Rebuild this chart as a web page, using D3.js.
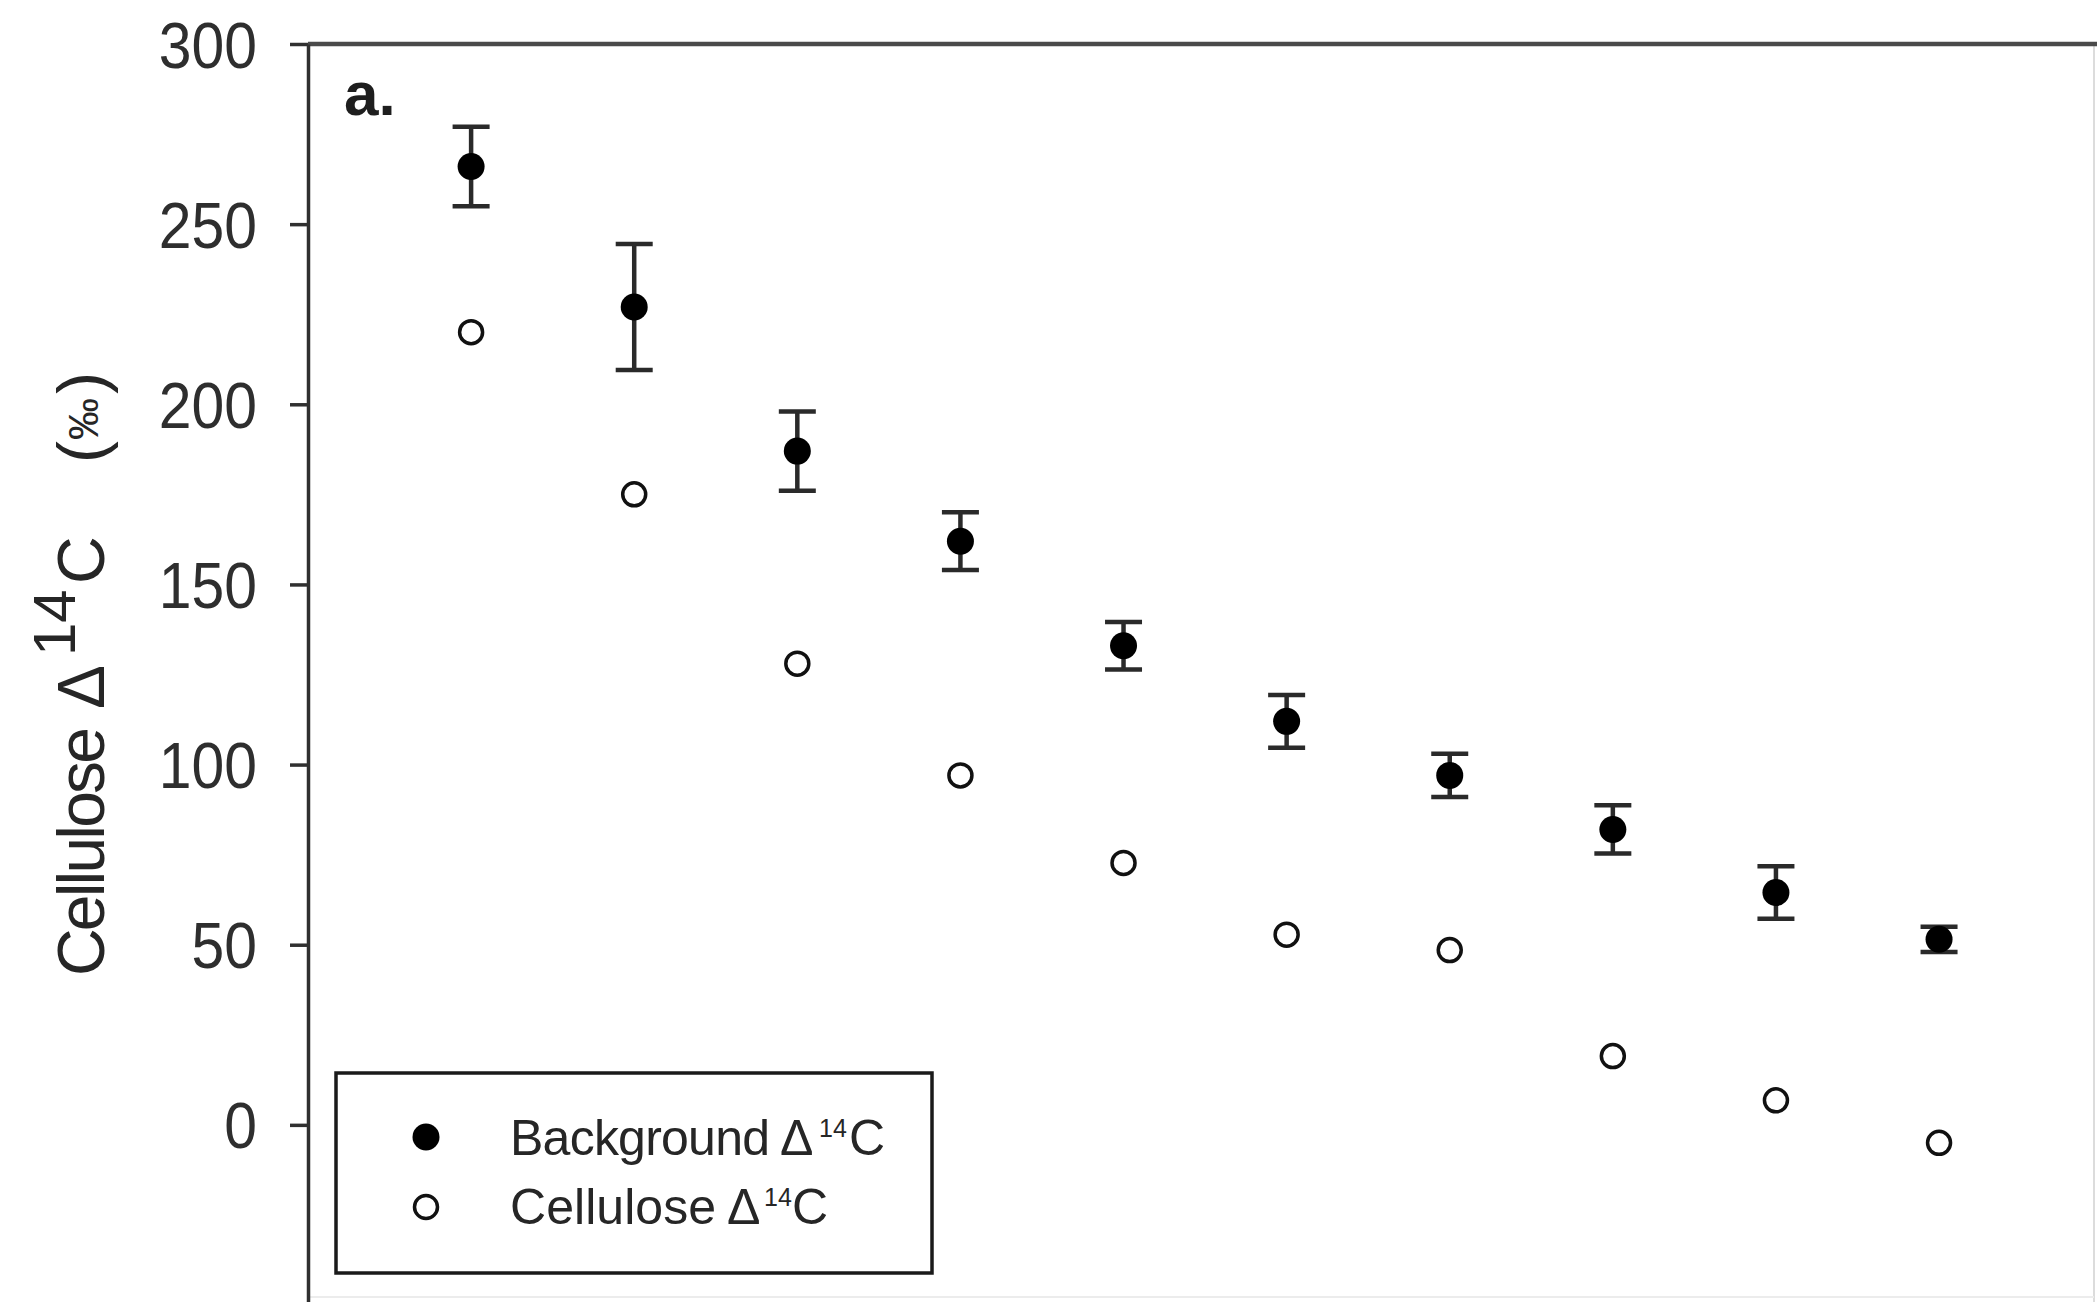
<!DOCTYPE html>
<html>
<head>
<meta charset="utf-8">
<script src="https://cdn.jsdelivr.net/npm/d3@7"></script>
<style>
  html, body { margin: 0; padding: 0; background: #fff; overflow: hidden; }
  svg { display: block; font-family: "Liberation Sans", Arial, Helvetica, sans-serif; }
</style>
</head>
<body>
<svg id="chart" width="2097" height="1302"></svg>
<script>
// Sample positions (tree-ring / layer index) and the two Δ14C series in ‰
const positions = [1, 2, 3, 4, 5, 6, 7, 8, 9, 10];
const background = [266, 227, 187, 162, 133, 112, 97, 82, 64.5, 51.5];
const backgroundErr = [11, 17.5, 11, 8, 6.6, 7.3, 6, 6.7, 7.3, 3.5];
const cellulose = [220, 175, 128, 97, 72.7, 52.8, 48.5, 19.1, 6.8, -5];
const yTicks = [0, 50, 100, 150, 200, 250, 300];

const svg = d3.select("#chart");
const ink = "#262626";

const plotLeft = 308, plotRight = 2094, plotTop = 44, plotBottom = 1305;

const x = d3.scaleLinear().domain([0, 10.95]).range([plotLeft, plotRight]);
const y = d3.scaleLinear().domain([-50, 300]).range([plotBottom, plotTop]);

// frame: faint right and bottom edges, heavier top edge
svg.append("line").attr("x1", plotRight).attr("x2", plotRight).attr("y1", plotTop).attr("y2", plotBottom)
  .attr("stroke", "#dcdcdc").attr("stroke-width", 2);
svg.append("line").attr("x1", plotLeft).attr("x2", plotRight).attr("y1", 1297).attr("y2", 1297)
  .attr("stroke", "#ececec").attr("stroke-width", 2);
svg.append("line").attr("x1", plotLeft).attr("x2", 2097).attr("y1", plotTop).attr("y2", plotTop)
  .attr("stroke", "#4a4a4a").attr("stroke-width", 4.5);

// left axis
const labelScale = 0.92;
const yAxis = d3.axisLeft(y).tickValues(yTicks).tickSize(18).tickSizeOuter(0).tickPadding(33);
const gy = svg.append("g").attr("transform", `translate(${plotLeft},0)`).call(yAxis);
gy.select(".domain").attr("stroke", "#303030").attr("stroke-width", 3.5);
gy.selectAll(".tick line").attr("stroke", "#303030").attr("stroke-width", 3.5);
gy.selectAll(".tick text")
  .attr("font-size", 64)
  .attr("fill", "#2e2e2e")
  .attr("font-family", "'Liberation Sans', Arial, sans-serif")
  .attr("x", -(18 + 33) / labelScale)
  .attr("dy", "0.36em")
  .attr("transform", `scale(${labelScale},1)`);

// rotated axis title: Cellulose Δ14C (‰)
const title = svg.append("text")
  .attr("transform", "translate(104,0) rotate(-90)")
  .attr("fill", ink)
  .attr("font-size", 66);
title.append("tspan").attr("x", -976).attr("textLength", 249).text("Cellulose");
title.append("tspan").attr("x", -709).text("Δ");
title.append("tspan").attr("x", -656).attr("dy", -29).attr("font-size", 60).text("14");
title.append("tspan").attr("x", -584).attr("dy", 29).text("C");
title.append("tspan").attr("x", -463).text("(");
title.append("tspan").attr("x", -440).attr("dy", -6).attr("font-size", 42).text("‰");
title.append("tspan").attr("x", -394).attr("dy", 6).text(")");

// panel letter
svg.append("text").attr("x", 344).attr("y", 115)
  .attr("font-size", 62).attr("font-weight", "bold").attr("fill", "#1e1e1e")
  .text("a.");

// error bars for the background series
const cap = 18.5;
const bars = svg.append("g").attr("stroke", "#2a2a2a").attr("stroke-width", 4.5).attr("fill", "none");
positions.forEach((p, i) => {
  const cx = x(p), y0 = y(background[i] - backgroundErr[i]), y1 = y(background[i] + backgroundErr[i]);
  bars.append("line").attr("x1", cx).attr("x2", cx).attr("y1", y0).attr("y2", y1);
  bars.append("line").attr("x1", cx - cap).attr("x2", cx + cap).attr("y1", y0).attr("y2", y0);
  bars.append("line").attr("x1", cx - cap).attr("x2", cx + cap).attr("y1", y1).attr("y2", y1);
});

// background points (filled)
svg.append("g").selectAll("circle").data(positions).join("circle")
  .attr("cx", d => x(d))
  .attr("cy", (d, i) => y(background[i]))
  .attr("r", 13.5)
  .attr("fill", "#000");

// cellulose points (open)
svg.append("g").selectAll("circle").data(positions).join("circle")
  .attr("cx", d => x(d))
  .attr("cy", (d, i) => y(cellulose[i]))
  .attr("r", 11.5)
  .attr("fill", "#fff")
  .attr("stroke", "#111")
  .attr("stroke-width", 3.5);

// legend
const lg = svg.append("g");
lg.append("rect").attr("x", 336).attr("y", 1073).attr("width", 596).attr("height", 200)
  .attr("fill", "#fff").attr("stroke", "#1a1a1a").attr("stroke-width", 3.5);
lg.append("circle").attr("cx", 426).attr("cy", 1137).attr("r", 13.5).attr("fill", "#000");
lg.append("circle").attr("cx", 426).attr("cy", 1207).attr("r", 11.5)
  .attr("fill", "#fff").attr("stroke", "#111").attr("stroke-width", 3.5);

const t1 = lg.append("text").attr("y", 1155).attr("font-size", 50).attr("fill", ink);
t1.append("tspan").attr("x", 510).attr("textLength", 260).text("Background");
t1.append("tspan").attr("x", 780).text("Δ");
t1.append("tspan").attr("x", 819).attr("dy", -18).attr("font-size", 25).text("14");
t1.append("tspan").attr("x", 849).attr("dy", 18).text("C");

const t2 = lg.append("text").attr("y", 1224).attr("font-size", 50).attr("fill", ink);
t2.append("tspan").attr("x", 510).attr("textLength", 206).text("Cellulose");
t2.append("tspan").attr("x", 727).text("Δ");
t2.append("tspan").attr("x", 764).attr("dy", -18).attr("font-size", 25).text("14");
t2.append("tspan").attr("x", 792).attr("dy", 18).text("C");
</script>
</body>
</html>
